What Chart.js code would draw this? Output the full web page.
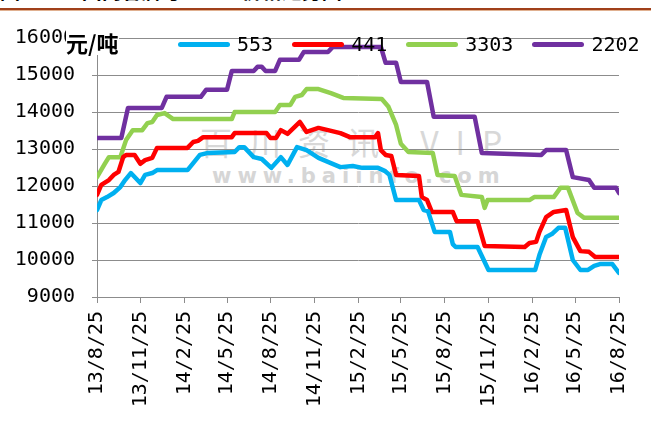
<!DOCTYPE html>
<html>
<head>
<meta charset="utf-8">
<script src="https://cdn.jsdelivr.net/npm/chart.js@4.4.0/dist/chart.umd.min.js"></script>
<style>
  body { margin: 0; background: #fff; }
  #wrap { position: relative; width: 651px; height: 423px; overflow: hidden; background: #fff; }
  #head { position: absolute; left: 0; top: -24px; font: bold 20px "Noto Sans CJK SC"; color: #000; white-space: nowrap; }
  #rule { position: absolute; left: 0; top: 8px; width: 651px; height: 2px; background: #a0401a; }
  #rule2 { position: absolute; left: 0; top: 10px; width: 651px; height: 1px; background: #e0b090; }
  #wm1 { position: absolute; left: 200px; top: 118px; font: 32px "Noto Sans CJK SC"; letter-spacing: 17px; color: #d8d8d8; white-space: nowrap; }
  #wm2 { position: absolute; left: 212px; top: 164px; font: bold 21px "DejaVu Sans"; letter-spacing: 6px; color: #d6d6d6; white-space: nowrap; }
  canvas { position: absolute; left: 0; top: 0; }
  #unit { position: absolute; left: 66px; top: 29px; font: bold 22px "Noto Sans CJK SC"; background: #fff; line-height: 26px; }
  #legend { position: absolute; left: 178px; top: 32px; display: flex; align-items: center; font: 20px "DejaVu Sans Mono"; }
  .item { display: flex; align-items: center; margin-right: 19px; }
  .swatch { width: 52px; height: 5px; border-radius: 3px; margin-right: 7px; }
</style>
</head>
<body>
<div id="wrap">
  <div id="head">图5<span style="margin-left:50px">国内各牌号工业硅价格走势图</span></div>
  <div id="rule"></div><div id="rule2"></div>
  <div id="wm1">百川资讯 VIP</div>
  <div id="wm2">www.baiinfo.com</div>
  <canvas id="priceChart" width="651" height="423"></canvas>
  <div id="unit">元/吨</div>
  <div id="legend"></div>
</div>
<script>
// x tick labels (yy/m/d), y axis range
const tickLabels = ['13/8/25','13/11/25','14/2/25','14/5/25','14/8/25','14/11/25','15/2/25','15/5/25','15/8/25','15/11/25','16/2/25','16/5/25','16/8/25'];
const yMin = 9000, yMax = 16000, yStep = 1000;

// day offsets from 2013-08-25 and prices, per grade
const days553 = [0,9,21,35,49,59,71,91,101,116,126,190,202,216,231,289,299,309,329,346,366,386,400,420,440,465,491,511,537,557,590,604,614,628,676,686,695,709,741,747,753,799,812,822,920,929,943,955,969,983,999,1015,1031,1044,1056,1082,1096];
const price553 = [11350,11620,11700,11810,11970,12160,12350,12080,12300,12350,12430,12430,12620,12840,12890,12920,13050,13050,12780,12730,12490,12780,12570,13050,12970,12760,12620,12510,12540,12490,12490,12410,12300,11620,11620,11350,11320,10760,10760,10430,10350,10350,10000,9730,9730,10140,10620,10700,10870,10870,10000,9730,9730,9840,9890,9890,9650];

const days441 = [0,9,25,35,45,55,61,79,91,101,116,126,190,202,212,223,283,289,356,364,376,386,400,426,440,465,485,511,531,584,590,596,606,618,628,676,682,693,703,747,755,799,814,898,908,922,929,943,959,985,999,1015,1033,1046,1096];
const price441 = [11760,12030,12160,12300,12380,12780,12840,12840,12600,12700,12760,13030,13030,13190,13220,13320,13320,13430,13430,13300,13300,13510,13410,13730,13460,13570,13510,13430,13320,13320,13430,12970,12840,12810,12300,12270,11700,11620,11300,11300,11050,11050,10380,10350,10460,10490,10760,11160,11300,11350,10620,10240,10220,10080,10080];

const days3303 = [0,15,25,49,61,75,95,106,116,126,142,160,283,289,374,384,406,416,430,440,465,491,517,598,612,628,638,654,705,715,751,765,808,814,820,908,918,959,973,989,1009,1023,1096];
const price3303 = [12240,12570,12780,12780,13240,13510,13510,13700,13730,13920,13970,13810,13810,14000,14000,14190,14190,14410,14460,14620,14620,14510,14380,14350,14140,13650,13140,12920,12890,12300,12270,11760,11700,11410,11620,11620,11700,11700,11950,11950,11270,11140,11140];

const days2202 = [0,51,65,136,146,218,229,273,283,329,337,346,354,374,384,424,434,485,495,596,606,628,638,693,707,793,808,933,943,985,999,1033,1044,1090,1096];
const price2202 = [13300,13300,14110,14110,14410,14410,14600,14600,15110,15110,15220,15220,15110,15110,15410,15410,15620,15620,15760,15760,15330,15330,14810,14810,13870,13870,12890,12840,12970,12970,12240,12160,11950,11950,11810];

const base = Date.UTC(2013, 7, 25);
function labelToDay(s) {
  const p = s.split('/').map(Number);
  return Math.round((Date.UTC(2000 + p[0], p[1] - 1, p[2]) - base) / 86400000);
}
const tickDays = tickLabels.map(labelToDay);

function pts(days, vals) {
  return days.map((d, i) => ({ x: d, y: vals[i] }));
}

function series(label, days, vals, color) {
  return {
    label: label,
    data: pts(days, vals),
    borderColor: color,
    backgroundColor: color,
    borderWidth: 4.5,
    pointRadius: 0,
    tension: 0,
    borderJoinStyle: 'round',
    borderCapStyle: 'round'
  };
}

const axisGray = '#8c8c8c';

const chart = new Chart(document.getElementById('priceChart'), {
  type: 'line',
  data: {
    datasets: [
      series('553', days553, price553, '#00b0f0'),
      series('441', days441, price441, '#ff0000'),
      series('3303', days3303, price3303, '#92d050'),
      series('2202', days2202, price2202, '#7030a0')
    ]
  },
  options: {
    responsive: false,
    animation: false,
    layout: { padding: { left: 0, right: 11, top: 38, bottom: 0 } },
    plugins: { legend: { display: false }, tooltip: { enabled: false } },
    scales: {
      x: {
        type: 'linear',
        min: 0,
        max: tickDays[tickDays.length - 1],
        afterBuildTicks: s => { s.ticks = tickDays.map(v => ({ value: v })); },
        afterFit: s => { s.height = 126; },
        grid: { drawOnChartArea: false, color: axisGray, tickLength: 6 },
        border: { color: axisGray, width: 1 },
        ticks: {
          minRotation: 90,
          maxRotation: 90,
          autoSkip: false,
          padding: 8,
          color: '#000',
          font: { family: 'DejaVu Sans Mono', size: 20 },
          callback: (v, i) => tickLabels[i]
        }
      },
      y: {
        min: yMin,
        max: yMax,
        afterFit: s => { s.width = 97; },
        grid: { color: axisGray, tickLength: 5 },
        border: { color: axisGray, width: 1 },
        ticks: {
          stepSize: yStep,
          padding: 17,
          color: '#000',
          font: { family: 'DejaVu Sans Mono', size: 20 },
          callback: v => String(v)
        }
      }
    }
  }
});

// legend in the top band of the plot
const legend = document.getElementById('legend');
chart.data.datasets.forEach(ds => {
  const item = document.createElement('div');
  item.className = 'item';
  const sw = document.createElement('span');
  sw.className = 'swatch';
  sw.style.background = ds.borderColor;
  const tx = document.createElement('span');
  tx.textContent = ds.label;
  item.appendChild(sw);
  item.appendChild(tx);
  legend.appendChild(item);
});
</script>
</body>
</html>
